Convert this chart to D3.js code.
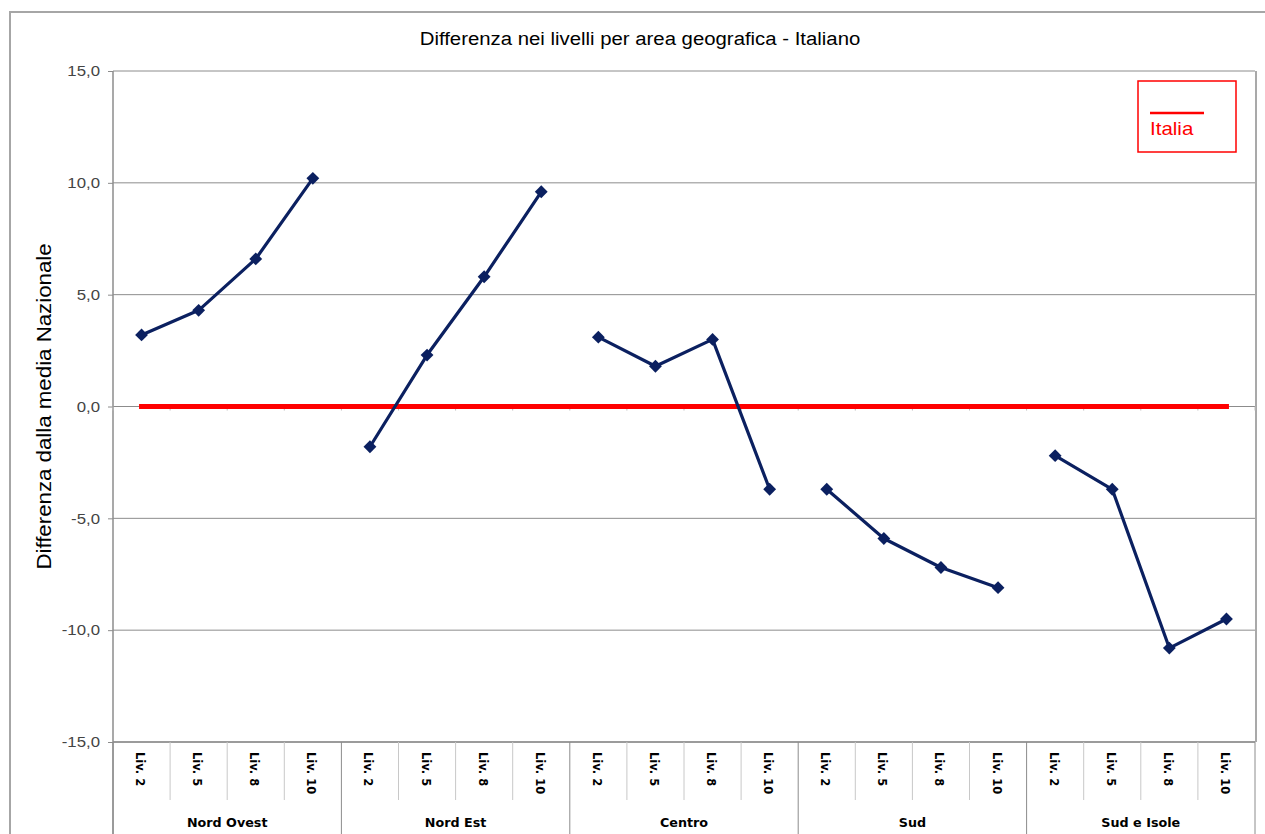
<!DOCTYPE html>
<html>
<head>
<meta charset="utf-8">
<script src="https://cdn.jsdelivr.net/npm/d3@7"></script>
<style>
  html, body { margin: 0; padding: 0; background: #fff; }
  svg { display: block; }
</style>
</head>
<body>
<svg id="chart" width="1265" height="834"></svg>
<script>
// Areas and school levels along the category axis
const areas = ["Nord Ovest", "Nord Est", "Centro", "Sud", "Sud e Isole"];
const levels = ["Liv. 2", "Liv. 5", "Liv. 8", "Liv. 10"];

// Difference from the national mean, one array per area (Liv. 2, 5, 8, 10)
const nordOvest = [3.2, 4.3, 6.6, 10.2];
const nordEst = [-1.8, 2.3, 5.8, 9.6];
const centro = [3.1, 1.8, 3.0, -3.7];
const sud = [-3.7, -5.9, -7.2, -8.1];
const sudIsole = [-2.2, -3.7, -10.8, -9.5];

// National reference series
const italia = 0;

const yTicks = [15, 10, 5, 0, -5, -10, -15];

const seriesByArea = [nordOvest, nordEst, centro, sud, sudIsole];

const svg = d3.select("#chart");
const W = 1265, H = 834;
const plot = { left: 113, right: 1255, top: 71, bottom: 742 };

// Widen a text selection horizontally by factor k
function widen(sel, k) {
  sel.each(function () {
    const len = this.getComputedTextLength();
    d3.select(this)
      .attr("textLength", len * k)
      .attr("lengthAdjust", "spacingAndGlyphs");
  });
}

// Flat list of categories
const cats = [];
areas.forEach((a, ai) => levels.forEach((l, li) => cats.push({ area: a, ai, level: l, li })));

const x = d3.scaleBand()
  .domain(d3.range(cats.length))
  .range([plot.left, plot.right])
  .padding(0);

const y = d3.scaleLinear().domain([-15, 15]).range([plot.bottom, plot.top]);

const grey = "#8c8c8c";

// Outer chart frame
svg.append("rect")
  .attr("x", 10).attr("y", 12)
  .attr("width", W + 20).attr("height", H + 20)
  .attr("fill", "none").attr("stroke", "#a6a6a6").attr("stroke-width", 2);

// Title
svg.append("text")
  .attr("x", 640).attr("y", 45)
  .attr("text-anchor", "middle")
  .attr("font-family", "Liberation Sans, Arial, sans-serif")
  .attr("font-size", 18)
  .attr("fill", "#000")
  .text("Differenza nei livelli per area geografica - Italiano")
  .call(widen, 1.13);

// Horizontal gridlines
svg.append("g").selectAll("line")
  .data(yTicks)
  .join("line")
  .attr("x1", plot.left).attr("x2", plot.right)
  .attr("y1", d => y(d)).attr("y2", d => y(d))
  .attr("stroke", grey).attr("stroke-width", 1);

// Plot area right border
svg.append("line")
  .attr("x1", plot.right + 1).attr("x2", plot.right + 1)
  .attr("y1", plot.top).attr("y2", plot.bottom)
  .attr("stroke", grey).attr("stroke-width", 1.5);

// Value axis
const yAxis = d3.axisLeft(y)
  .tickValues(yTicks)
  .tickSize(5)
  .tickPadding(8)
  .tickFormat(d => d3.format(".1f")(d).replace(".", ",").replace("−", "-"));

const gy = svg.append("g")
  .attr("transform", `translate(${plot.left},0)`)
  .call(yAxis);
gy.select(".domain").attr("stroke", grey).attr("stroke-width", 1.5)
  .attr("d", `M0,${plot.top}V${H}`);
gy.selectAll(".tick line").attr("stroke", grey);
gy.selectAll(".tick text")
  .attr("font-family", "Liberation Sans, Arial, sans-serif")
  .attr("font-size", 15)
  .attr("fill", "#444")
  .call(widen, 1.12);

// Y axis title
svg.append("text")
  .attr("transform", `translate(51,${(plot.top + plot.bottom) / 2}) rotate(-90)`)
  .attr("text-anchor", "middle")
  .attr("font-family", "Liberation Sans, Arial, sans-serif")
  .attr("font-size", 21)
  .attr("fill", "#000")
  .text("Differenza dalla media Nazionale")
  .call(widen, 1.06);

// Small ticks of the category axis where it crosses zero
svg.append("g").selectAll("line")
  .data(d3.range(cats.length + 1))
  .join("line")
  .attr("x1", i => plot.left + i * x.bandwidth())
  .attr("x2", i => plot.left + i * x.bandwidth())
  .attr("y1", y(0)).attr("y2", y(0) + 4)
  .attr("stroke", "#bbb").attr("stroke-width", 1);

// Category axis: level separators and area separators
svg.append("line")
  .attr("x1", plot.left).attr("x2", plot.right)
  .attr("y1", plot.bottom).attr("y2", plot.bottom)
  .attr("stroke", grey).attr("stroke-width", 1.5);

svg.append("g").selectAll("line")
  .data(d3.range(cats.length + 1))
  .join("line")
  .attr("x1", i => plot.left + i * x.bandwidth())
  .attr("x2", i => plot.left + i * x.bandwidth())
  .attr("y1", plot.bottom)
  .attr("y2", i => (i % levels.length === 0 ? H : 800))
  .attr("stroke", i => (i % levels.length === 0 ? grey : "#c8c8c8"))
  .attr("stroke-width", 1);

// Level labels (rotated)
svg.append("g").selectAll("text")
  .data(cats)
  .join("text")
  .attr("transform", (d, i) => `translate(${x(i) + x.bandwidth() / 2 - 5.5},${plot.bottom + 10}) rotate(90)`)
  .attr("font-family", "DejaVu Sans, Verdana, sans-serif")
  .attr("font-weight", "bold")
  .attr("font-size", 11.5)
  .attr("fill", "#000")
  .text(d => d.level);

// Area labels
svg.append("g").selectAll("text")
  .data(areas)
  .join("text")
  .attr("x", (d, i) => plot.left + (i * levels.length + levels.length / 2) * x.bandwidth())
  .attr("y", 827)
  .attr("text-anchor", "middle")
  .attr("font-family", "DejaVu Sans, Verdana, sans-serif")
  .attr("font-weight", "bold")
  .attr("font-size", 12)
  .attr("fill", "#000")
  .text(d => d)
  .call(widen, 1.06);

// Italia reference line
svg.append("line")
  .attr("x1", x(0) + x.bandwidth() / 2)
  .attr("x2", x(cats.length - 1) + x.bandwidth() / 2)
  .attr("y1", y(italia)).attr("y2", y(italia))
  .attr("stroke", "#ff0000").attr("stroke-width", 5)
  .attr("stroke-linecap", "square");

// Area series: one broken line per area
const navy = "#0b2060";
const line = d3.line()
  .x(d => x(d.i) + x.bandwidth() / 2)
  .y(d => y(d.v));

seriesByArea.forEach((vals, ai) => {
  const pts = vals.map((v, li) => ({ i: ai * levels.length + li, v }));
  svg.append("path")
    .datum(pts)
    .attr("d", line)
    .attr("fill", "none")
    .attr("stroke", navy)
    .attr("stroke-width", 3.2)
    .attr("stroke-linejoin", "round");
  svg.append("g").selectAll("path")
    .data(pts)
    .join("path")
    .attr("d", d3.symbol(d3.symbolDiamond2, 105))
    .attr("transform", d => `translate(${x(d.i) + x.bandwidth() / 2},${y(d.v)})`)
    .attr("fill", navy);
});

// Legend
const lg = svg.append("g");
lg.append("rect")
  .attr("x", 1138).attr("y", 81)
  .attr("width", 98).attr("height", 71)
  .attr("fill", "#fff").attr("stroke", "#ff0000").attr("stroke-width", 1.5);
lg.append("line")
  .attr("x1", 1150).attr("x2", 1204)
  .attr("y1", 113).attr("y2", 113)
  .attr("stroke", "#ff0000").attr("stroke-width", 2.5);
lg.append("text")
  .attr("x", 1150).attr("y", 135)
  .attr("font-family", "Liberation Sans, Arial, sans-serif")
  .attr("font-size", 19)
  .attr("fill", "#ff0000")
  .text("Italia")
  .call(widen, 1.08);
</script>
</body>
</html>
